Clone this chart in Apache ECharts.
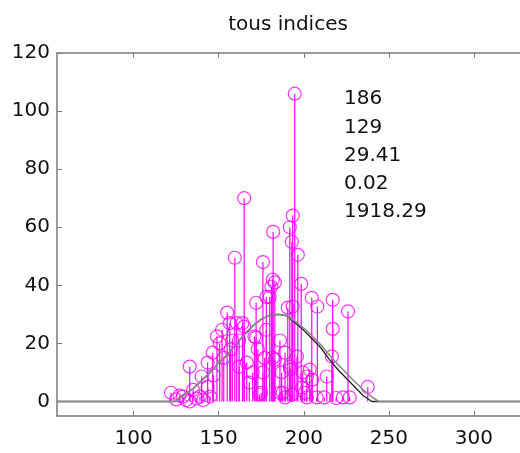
<!DOCTYPE html>
<html>
<head>
<meta charset="utf-8">
<script src="https://cdn.jsdelivr.net/npm/echarts@6/dist/echarts.min.js"></script>
<style>
html,body{margin:0;padding:0;background:#fff;overflow:hidden;}
#c{width:540px;height:453px;}
</style>
</head>
<body>
<div id="c"></div>
<script>
const chartTitle = 'tous indices';
const annotations = ['186', '129', '29.41', '0.02', '1918.29'];
const xTicks = [100, 150, 200, 250, 300];
const yTicks = [0, 20, 40, 60, 80, 100, 120];

const stemX = [122, 125, 127, 129, 131, 133, 133, 135, 137, 139, 140, 141, 143.5, 143.5, 145, 146.5, 147, 149, 150.6, 152, 153, 155, 156.5, 157, 158, 159.5, 160.6, 162, 162, 164, 165, 165, 166.5, 168, 170, 171, 172, 172, 173, 174, 175, 176, 176, 177, 178, 178, 180, 181, 181.8, 181.8, 182, 183, 183, 186, 186, 187, 187.6, 189, 189, 190.6, 191.8, 191.8, 192, 193, 193.5, 193.5, 193, 194.7, 196, 196.5, 198.5, 199, 199.4, 200.6, 201.8, 201.8, 203.5, 204.7, 205, 207.6, 208, 212, 213.5, 216.5, 217, 217, 219, 223, 226, 227, 237.6];
const stemY = [3, 0.7, 2, 1.7, 0.5, 12, 0, 4, 1, 1.7, 8.6, 0.5, 5, 13.4, 1.7, 16.8, 9, 22.4, 20, 24.7, 15, 30.6, 27, 18, 21, 49.5, 27, 21, 12, 27, 25.8, 70, 13.4, 6.5, 10, 22.4, 34, 22, 18, 2.4, 3, 10, 48, 15, 24.7, 36, 36, 39.5, 42, 15, 58.4, 41, 14.4, 21, 3, 10, 3, 16.8, 1.4, 32.3, 60, 12, 11, 55, 64, 32.7, 2.4, 106, 15.5, 50.5, 40.5, 4.8, 10, 3, 8.6, 1.4, 11, 35.7, 7.5, 1.4, 32.7, 1.4, 8.6, 15.5, 35, 25, 1.2, 1.4, 31, 1.4, 5];

const fitX1 = [55, 124, 127, 131, 135, 140, 145, 150, 155, 160, 165, 170, 175, 180, 185, 190, 195, 200, 205, 210, 215, 220, 225, 230, 235, 240, 330];
const fitY1 = [0, 0, 1.2, 2.8, 4.5, 7.2, 10, 13.4, 16, 19.5, 23, 26, 28.3, 29.7, 30, 29.5, 27, 24.5, 21.5, 18.5, 14.5, 11, 8, 5, 2, 0, 0];
const fitX2 = [55, 124, 127, 131, 135, 140, 145, 150, 155, 160, 165, 170, 175, 180, 185, 190, 195, 200, 205, 210, 215, 220, 225, 230, 235, 240, 244, 330];
const fitY2 = [0, 0, 1.2, 2.8, 4.5, 7.2, 10, 13.4, 16, 19.5, 23, 26, 28.3, 29.7, 30, 29.6, 27.6, 25.3, 22.5, 19.5, 16, 12.8, 9.8, 6.8, 4, 1.6, 0, 0];

const stems = stemX.map((x, i) => [x, stemY[i]]);
const fit1 = fitX1.map((x, i) => [x, fitY1[i]]);
const fit2 = fitX2.map((x, i) => [x, fitY2[i]]);

const FONT = 'DejaVu Sans';
const AX = '#7a7a7a';
const MAG = '#ff00ff';
const TXT = '#111';

const chart = echarts.init(document.getElementById('c'), null, {renderer: 'canvas'});

function xAx(pos, showLabel) {
  return {
    type: 'value', position: pos, min: 55, max: 330,
    axisLine: {show: true, onZero: false, lineStyle: {color: AX, width: 1.5}},
    axisTick: {show: true, inside: true, length: 5, customValues: xTicks, lineStyle: {color: AX}},
    axisLabel: {show: showLabel, customValues: xTicks, margin: 13, color: TXT, fontFamily: FONT, fontSize: 20},
    splitLine: {show: false}
  };
}
function yAx(pos, showLabel) {
  return {
    type: 'value', position: pos, min: -5, max: 120,
    axisLine: {show: true, onZero: false, lineStyle: {color: AX, width: 1.5}},
    axisTick: {show: true, inside: true, length: 5, customValues: yTicks, lineStyle: {color: AX}},
    axisLabel: {show: showLabel, customValues: yTicks, margin: 7, color: TXT, fontFamily: FONT, fontSize: 20},
    splitLine: {show: false}
  };
}

chart.setOption({
  animation: false,
  backgroundColor: '#fff',
  grid: {left: 57, top: 53, width: 468, height: 363, containLabel: false},
  xAxis: [xAx('bottom', true), xAx('top', false)],
  yAxis: [yAx('left', true), yAx('right', false)],
  series: [
    {
      type: 'custom', xAxisIndex: 0, yAxisIndex: 0, data: stems, z: 2,
      renderItem: function (params, api) {
        const x = api.value(0), y = api.value(1);
        const p0 = api.coord([x, 0]);
        const p1 = api.coord([x, y]);
        return {type: 'line', shape: {x1: p0[0], y1: p0[1], x2: p1[0], y2: p1[1]},
                style: {stroke: MAG, lineWidth: 1.2}};
      }
    },
    {
      type: 'scatter', xAxisIndex: 0, yAxisIndex: 0, data: stems, z: 3,
      symbol: 'circle', symbolSize: 13,
      itemStyle: {color: 'rgba(0,0,0,0)', borderColor: MAG, borderWidth: 1.2}
    },
    {
      type: 'line', xAxisIndex: 0, yAxisIndex: 0, data: fit1, z: 4,
      showSymbol: false, symbol: 'none', lineStyle: {color: '#222', width: 1.3}
    },
    {
      type: 'line', xAxisIndex: 0, yAxisIndex: 0, data: fit2, z: 4,
      showSymbol: false, symbol: 'none', lineStyle: {color: '#8a8a8a', width: 1.6}
    }
  ],
  graphic: [{
    type: 'text', x: 288, y: 25, z: 10,
    style: {text: chartTitle, fontFamily: FONT, fontSize: 20, fill: TXT, align: 'center', verticalAlign: 'middle'}
  }].concat(annotations.map((t, i) => ({
    type: 'text', x: 344, y: 99 + i * 28.3, z: 10,
    style: {text: t, fontFamily: FONT, fontSize: 20, fill: TXT, align: 'left', verticalAlign: 'middle'}
  })))
});
</script>
</body>
</html>
